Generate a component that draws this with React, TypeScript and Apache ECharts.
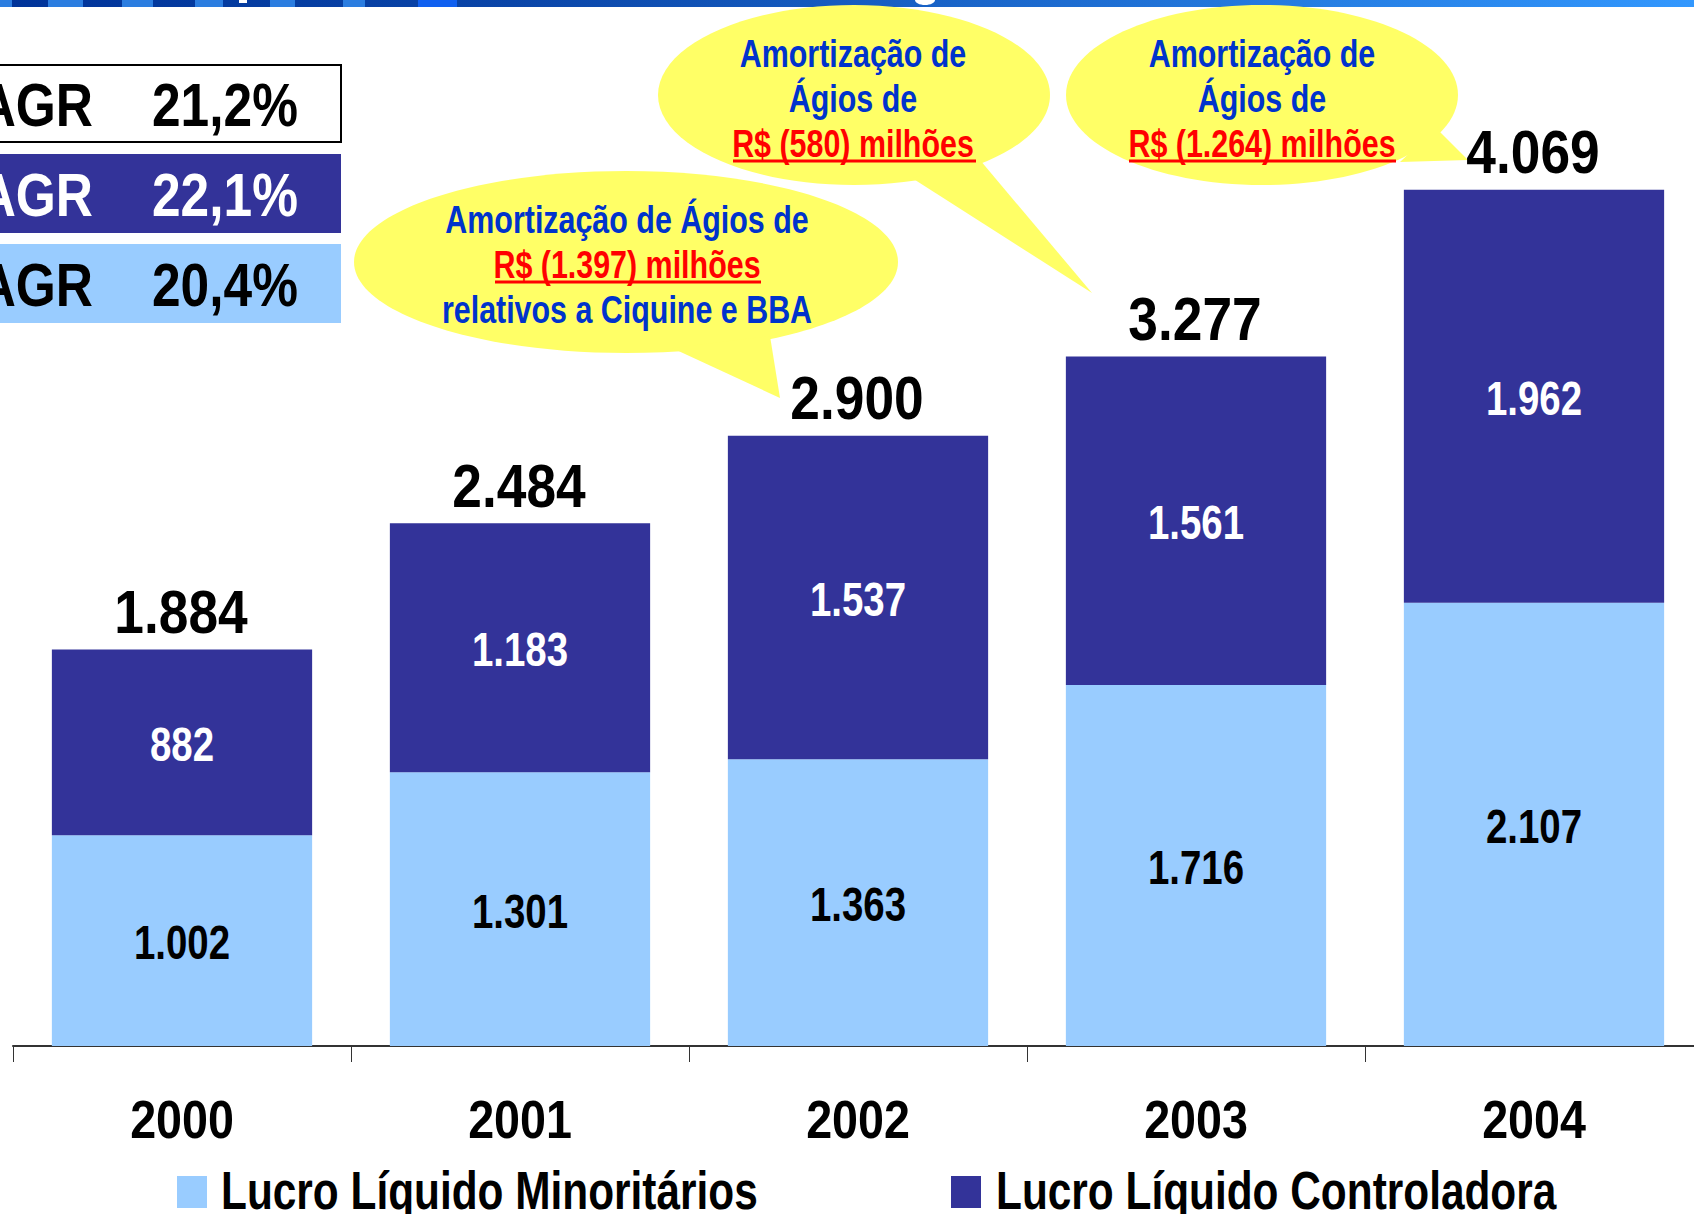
import React, { useEffect, useRef } from "react";
import * as echarts from "echarts";

const years = ["2000", "2001", "2002", "2003", "2004"];
const minoritarios = [1002, 1301, 1363, 1716, 2107];
const controladora = [882, 1183, 1537, 1561, 1962];
const totals = [1884, 2484, 2900, 3277, 4069];
const seriesNames = ["Lucro Líquido Minoritários", "Lucro Líquido Controladora"];
const cagrLabels = ["CAGR", "CAGR", "CAGR"];
const cagrValues = ["21,2%", "22,1%", "20,4%"];
const callout1Lines = ["Amortização de Ágios de", "R$ (1.397) milhões", "relativos a Ciquine e BBA"];
const callout2Lines = ["Amortização de", "Ágios de", "R$ (580) milhões"];
const callout3Lines = ["Amortização de", "Ágios de", "R$ (1.264) milhões"];

const FONT = "'Liberation Sans', Arial, Helvetica, sans-serif";
const LIGHT = "#99CCFF";
const DARK = "#333399";
const YELLOW = "#FFFF66";
const BLUE_TXT = "#0033CC";
const RED_TXT = "#FF0000";

function fmt(v: number): string {
  return String(v).replace(/\B(?=(\d{3})+(?!\d))/g, ".");
}

function txt(text: string, x: number, y: number, size: number, sx: number, color: string, align = "center", z = 20): any {
  return {
    type: "text",
    z,
    x,
    y,
    scaleX: sx,
    style: {
      text,
      x: 0,
      y: 0,
      align,
      verticalAlign: "middle",
      fill: color,
      font: `bold ${size}px ${FONT}`,
    },
  };
}

function calloutTexts(lines: string[], cx: number, ys: number[], redIndex: number, ul: [number, number, number]) {
  const els: any[] = lines.map((t, i) => txt(t, cx, ys[i], 39, 0.78, i === redIndex ? RED_TXT : BLUE_TXT));
  els.push({
    type: "line",
    z: 20,
    shape: { x1: ul[0], y1: ul[2], x2: ul[1], y2: ul[2] },
    style: { stroke: RED_TXT, lineWidth: 3 },
  });
  return els;
}

export default function App() {
  const ref = useRef<HTMLDivElement>(null);
  useEffect(() => {
    if (!ref.current) return;
    const chart = echarts.init(ref.current, null, { renderer: "svg" });

    chart.setOption({
      animation: false,
      backgroundColor: "#ffffff",
      grid: { left: 13, right: 7, top: 36, bottom: 168, containLabel: false },
      xAxis: {
        type: "category",
        data: years,
        axisLine: { lineStyle: { color: "#333", width: 2 } },
        axisTick: { show: true, length: 16, lineStyle: { color: "#333", width: 1 } },
        axisLabel: { show: false },
      },
      yAxis: { type: "value", min: 0, max: 4800, show: false, splitLine: { show: false } },
      series: [
        {
          name: seriesNames[0],
          type: "bar",
          stack: "a",
          barWidth: "77%",
          data: minoritarios,
          itemStyle: { color: LIGHT },
        },
        {
          name: seriesNames[1],
          type: "bar",
          stack: "a",
          barWidth: "77%",
          data: controladora,
          itemStyle: { color: DARK },
        },
      ],
    });

    const strip: any[] = [
      {
        type: "rect",
        z: 1,
        shape: { x: 0, y: 0, width: 1710, height: 7 },
        style: {
          fill: new echarts.graphic.LinearGradient(0, 0, 1, 0, [
            { offset: 0, color: "#003399" },
            { offset: 0.3, color: "#0a45a8" },
            { offset: 1, color: "#3399ff" },
          ]),
        },
      },
    ];
    const lightSegs = [[0, 12], [48, 83], [122, 153], [195, 223], [270, 295], [343, 365]];
    lightSegs.forEach(([a, b]) =>
      strip.push({ type: "rect", z: 2, shape: { x: a, y: 0, width: b - a, height: 7 }, style: { fill: "#2b7de0" } })
    );
    strip.push({ type: "rect", z: 2, shape: { x: 418, y: 0, width: 39, height: 7 }, style: { fill: "#1060f0" } });
    strip.push({ type: "rect", z: 3, shape: { x: 239, y: 0, width: 8, height: 3 }, style: { fill: "#ffffff" } });
    strip.push({ type: "ellipse", z: 3, shape: { cx: 925, cy: 0, rx: 10, ry: 5 }, style: { fill: "#ffffff" } });

    const cagr: any[] = [
      { type: "rect", z: 5, shape: { x: -10, y: 65, width: 351, height: 77 }, style: { fill: "#ffffff", stroke: "#000", lineWidth: 2 } },
      { type: "rect", z: 5, shape: { x: -10, y: 154, width: 351, height: 79 }, style: { fill: DARK } },
      { type: "rect", z: 5, shape: { x: -10, y: 244, width: 351, height: 79 }, style: { fill: LIGHT } },
    ];
    const boxCenters = [104, 194, 284];
    const boxColors = ["#000000", "#ffffff", "#000000"];
    boxCenters.forEach((cy, i) => {
      cagr.push(txt(cagrLabels[i], 93, cy, 62, 0.83, boxColors[i], "right", 6));
      cagr.push(txt(cagrValues[i], 152, cy, 62, 0.83, boxColors[i], "left", 6));
    });

    const callouts: any[] = [
      { type: "ellipse", z: 10, shape: { cx: 626, cy: 262, rx: 272, ry: 91 }, style: { fill: YELLOW } },
      { type: "polygon", z: 10, shape: { points: [[672, 348], [770, 336], [780, 398]] }, style: { fill: YELLOW } },
      { type: "ellipse", z: 10, shape: { cx: 854, cy: 95, rx: 196, ry: 90 }, style: { fill: YELLOW } },
      { type: "polygon", z: 10, shape: { points: [[912, 178], [980, 160], [1092, 293]] }, style: { fill: YELLOW } },
      { type: "ellipse", z: 10, shape: { cx: 1262, cy: 95, rx: 196, ry: 90 }, style: { fill: YELLOW } },
      { type: "polygon", z: 10, shape: { points: [[1436, 128], [1400, 162], [1468, 160]] }, style: { fill: YELLOW } },
      ...calloutTexts(callout1Lines, 627, [219, 264, 309], 1, [495, 761, 282]),
      ...calloutTexts(callout2Lines, 853, [53, 98, 143], 2, [733, 976, 161]),
      ...calloutTexts(callout3Lines, 1262, [53, 98, 143], 2, [1129, 1396, 161]),
    ];

    // data labels placed through the chart's own scales
    const labels: any[] = [];
    years.forEach((yr, i) => {
      const lo = minoritarios[i];
      const hi = controladora[i];
      const pLo = chart.convertToPixel({ xAxisIndex: 0, yAxisIndex: 0 }, [i, lo / 2]) as number[];
      const pHi = chart.convertToPixel({ xAxisIndex: 0, yAxisIndex: 0 }, [i, lo + hi / 2]) as number[];
      const pTop = chart.convertToPixel({ xAxisIndex: 0, yAxisIndex: 0 }, [i, totals[i]]) as number[];
      const p0 = chart.convertToPixel({ xAxisIndex: 0, yAxisIndex: 0 }, [i, 0]) as number[];
      labels.push(txt(fmt(lo), pLo[0], pLo[1] + 2, 48, 0.8, "#000000"));
      labels.push(txt(fmt(hi), pHi[0], pHi[1] + 2, 48, 0.8, "#ffffff"));
      labels.push(txt(fmt(totals[i]), pTop[0] - 1, pTop[1] - 38, 62, 0.86, "#000000"));
      labels.push(txt(yr, p0[0], p0[1] + 74, 53, 0.88, "#000000"));
    });

    const legend: any[] = [
      { type: "rect", z: 5, shape: { x: 177, y: 1176, width: 30, height: 32 }, style: { fill: LIGHT } },
      { type: "rect", z: 5, shape: { x: 951, y: 1176, width: 30, height: 32 }, style: { fill: DARK } },
      txt(seriesNames[0], 221, 1190, 54, 0.785, "#000000", "left", 6),
      txt(seriesNames[1], 996, 1190, 54, 0.785, "#000000", "left", 6),
    ];

    chart.setOption({ graphic: [...strip, ...cagr, ...callouts, ...labels, ...legend] });
    return () => chart.dispose();
  }, []);
  return (
    <div style={{ position: "absolute", left: 0, top: 0, width: 1694, height: 1214, overflow: "hidden" }}>
      <div ref={ref} style={{ width: 1710, height: 1214 }} />
    </div>
  );
}
